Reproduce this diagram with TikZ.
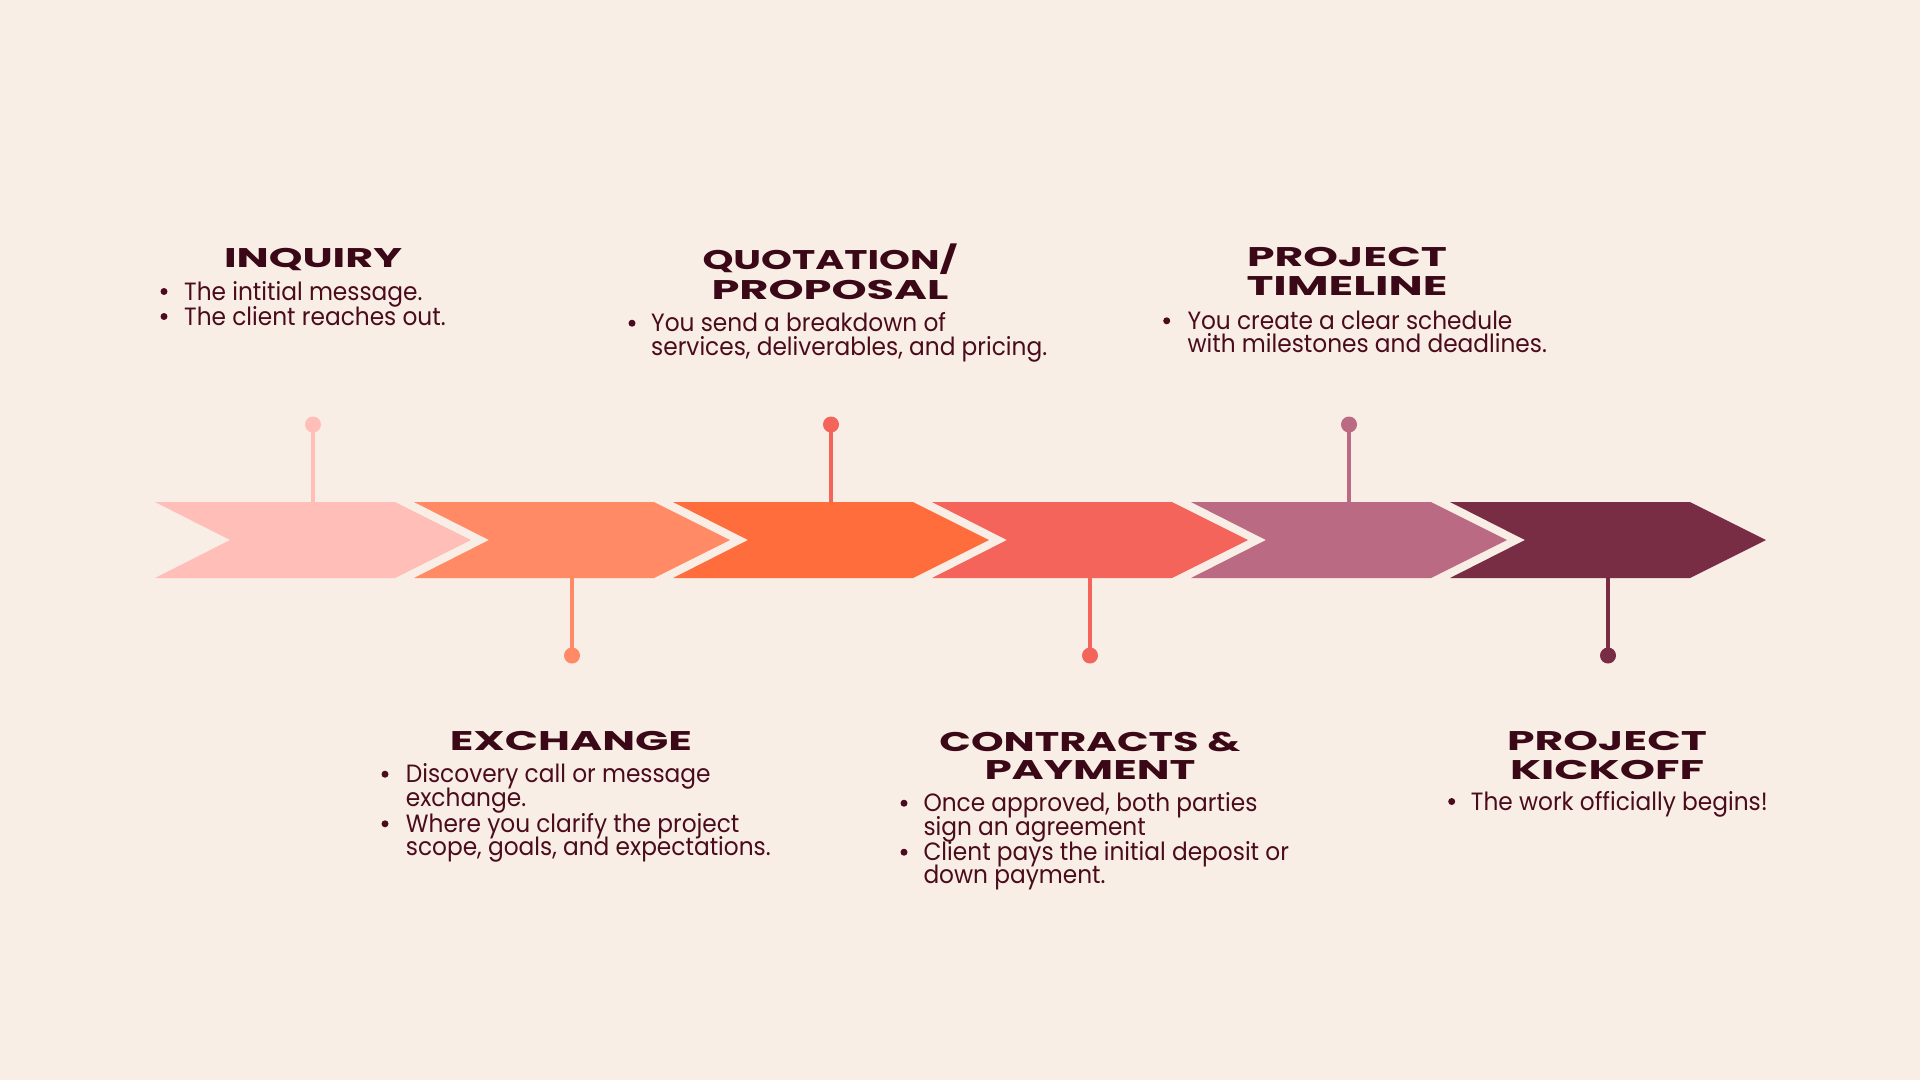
\documentclass[tikz,border=0pt]{standalone}
\usepackage{fontspec}
\usepackage{graphicx}
\IfFontExistsTF{Poppins Black}{\newfontfamily\headfont{Poppins Black}}{\newfontfamily\headfont{Poppins}[FakeBold=1.5]}
\newfontfamily\bodyfont{Poppins}
\definecolor{bg}{HTML}{F8EEE5}
\definecolor{cA}{HTML}{FFBFB8}
\definecolor{cB}{HTML}{FF8A65}
\definecolor{cC}{HTML}{FF6D3D}
\definecolor{cD}{HTML}{F4645A}
\definecolor{cE}{HTML}{BB6A84}
\definecolor{cF}{HTML}{782D45}
\definecolor{headcol}{HTML}{3A0816}
\definecolor{bodycol}{HTML}{4A0C1C}
\newlength\reflen
\newcommand\bfnt{\bodyfont\fontsize{25}{25}\selectfont}
\newcommand\hfnt{\headfont\bfseries\fontsize{27}{27}\selectfont}
\newcommand\bl[1]{\scalebox{\bodyx}[1]{\bfnt #1}}
\newcommand\hl[2]{\resizebox{#1pt}{\height}{\hfnt #2}}
\begin{document}
\settowidth\reflen{\bfnt services, deliverables, and pricing.}%
\pgfmathsetmacro\bodyx{396/\reflen}%
\begin{tikzpicture}[x=1pt,y=-1pt,
  txt/.style={anchor=base west, inner sep=0pt, text=bodycol},
  head/.style={anchor=base, inner sep=0pt, text=headcol},
  dotn/.style={circle, inner sep=0pt, minimum size=16pt, fill=#1},
  bul/.style={circle, inner sep=0pt, minimum size=7pt, fill=bodycol},
  stem/.style={line width=4pt, draw=#1}]
\useasboundingbox (0,0) rectangle (1920,1080);
\fill[bg] (0,0) rectangle (1920,1080);
% chevrons
\foreach \i/\c in {0/cA,1/cB,2/cC,3/cD,4/cE,5/cF}{
  \pgfmathsetmacro\L{155+259*\i}
  \fill[\c] (\L,502) -- (\L+240,502) -- (\L+316,540) -- (\L+240,578) -- (\L,578) -- (\L+75,540) -- cycle;
}
% stems
\coordinate (a1) at (313,502);
\coordinate (a2) at (572,578);
\coordinate (a3) at (831,502);
\coordinate (a4) at (1090,578);
\coordinate (a5) at (1349,502);
\coordinate (a6) at (1608,578);
\node[dotn=cA] (d1) at (313,424.5) {};
\node[dotn=cB] (d2) at (572,655.5) {};
\node[dotn=cD] (d3) at (831,424.5) {};
\node[dotn=cD] (d4) at (1090,655.5) {};
\node[dotn=cE] (d5) at (1349,424.5) {};
\node[dotn=cF] (d6) at (1608,655.5) {};
\draw[stem=cA] (d1.center) -- (a1);
\draw[stem=cB] (d2.center) -- (a2);
\draw[stem=cD] (d3.center) -- (a3);
\draw[stem=cD] (d4.center) -- (a4);
\draw[stem=cE] (d5.center) -- (a5);
\draw[stem=cF] (d6.center) -- (a6);
% 1 INQUIRY
\node[head] (h1) at (313,267.7) {\hl{178}{INQUIRY}};
\node[bul] (b1a) at (164,291.5) {};
\node[txt] (t1a) at (184,300) {\bl{The intitial message.}};
\node[bul] (b1b) at (164,316.5) {};
\node[txt] (t1b) at (184,325) {\bl{The client reaches out.}};
% 2 QUOTATION / PROPOSAL
\node[head] (h2a) at (830,269) {\hl{255}{QUOTATION/}};
\node[head] (h2b) at (830,299.3) {\hl{237}{PROPOSAL}};
\node[bul] (b2a) at (632,323.2) {};
\node[txt] (t2a) at (651,331.7) {\bl{You send a breakdown of}};
\node[txt] (t2b) at (651,355) {\bl{services, deliverables, and pricing.}};
% 3 PROJECT TIMELINE
\node[head] (h3a) at (1347,266.7) {\hl{200}{PROJECT}};
\node[head] (h3b) at (1347,295) {\hl{201}{TIMELINE}};
\node[bul] (b3a) at (1166.7,320.8) {};
\node[txt] (t3a) at (1187.3,329.3) {\bl{You create a clear schedule}};
\node[txt] (t3b) at (1187.3,352) {\bl{with milestones and deadlines.}};
% 4 EXCHANGE
\node[head] (h4) at (571,750.7) {\hl{242}{EXCHANGE}};
\node[bul] (b4a) at (385,774.2) {};
\node[txt] (t4a) at (405.7,782.7) {\bl{Discovery call or message}};
\node[txt] (t4b) at (405.7,806.7) {\bl{exchange.}};
\node[bul] (b4c) at (385,823.8) {};
\node[txt] (t4c) at (405.7,832.3) {\bl{Where you clarify the project}};
\node[txt] (t4d) at (405.7,855.7) {\bl{scope, goals, and expectations.}};
% 5 CONTRACTS & PAYMENT
\node[head] (h5a) at (1090,751) {\hl{301}{CONTRACTS \&}};
\node[head] (h5b) at (1090,779.3) {\hl{211}{PAYMENT}};
\node[bul] (b5a) at (904,803.2) {};
\node[txt] (t5a) at (923.3,811.7) {\bl{Once approved, both parties}};
\node[txt] (t5b) at (923.3,835) {\bl{sign an agreement}};
\node[bul] (b5c) at (904,852.2) {};
\node[txt] (t5c) at (923.3,860.7) {\bl{Client pays the initial deposit or}};
\node[txt] (t5d) at (923.3,883.3) {\bl{down payment.}};
% 6 PROJECT KICKOFF
\node[head] (h6a) at (1607,750.7) {\hl{200}{PROJECT}};
\node[head] (h6b) at (1607,779) {\hl{194}{KICKOFF}};
\node[bul] (b6a) at (1451.7,801.5) {};
\node[txt] (t6a) at (1470.7,810) {\bl{The work officially begins!}};
\end{tikzpicture}
\end{document}
